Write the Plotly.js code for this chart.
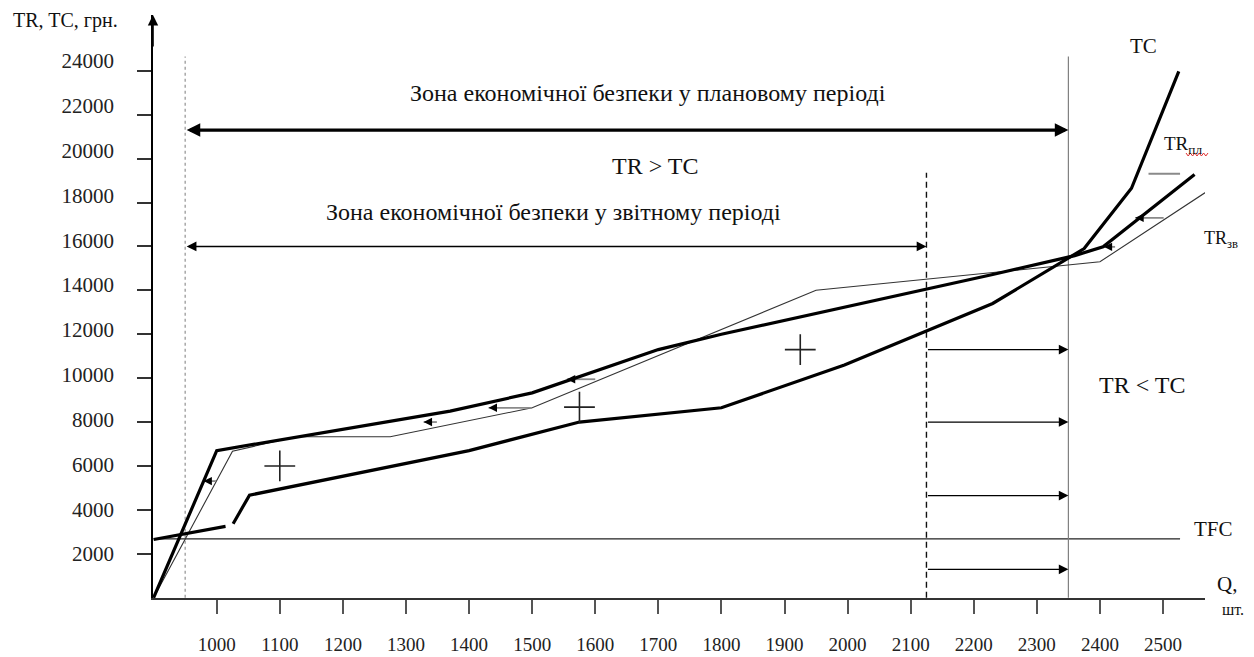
<!DOCTYPE html>
<html>
<head>
<meta charset="utf-8">
<script src="https://cdn.plot.ly/plotly-3.0.1.min.js"></script>
<style>html,body{margin:0;padding:0;background:#fff;}#chart{width:1254px;height:657px;}</style>
</head>
<body>
<div id="chart"></div>
<script>
// ---- data ----
const xTicks = [1000,1100,1200,1300,1400,1500,1600,1700,1800,1900,2000,2100,2200,2300,2400,2500];
const yTicks = [2000,4000,6000,8000,10000,12000,14000,16000,18000,20000,22000,24000];
const yTickText = ['2000','4000','6000','8000','10000','12000','14000','16000','18000','20000','22000','24000'];

const tcX = [900, 1014, null, 1026, 1052, 1400, 1575, 1800, 1995, 2230, 2375, 2450, 2525];
const tcY = [2650, 3250, null, 3370, 4670, 6700, 8000, 8650, 10600, 13400, 15900, 18650, 23970];

const trPlanX = [900, 1000, 1370, 1500, 1700, 1800, 2230, 2360, 2405, 2550];
const trPlanY = [0, 6700, 8500, 9330, 11300, 12000, 14720, 15580, 15980, 19270];

const trRepX = [900, 1025, 1125, 1275, 1500, 1950, 2400, 2578];
const trRepY = [0, 6670, 7330, 7330, 8650, 14000, 15300, 18660];

const tfcX = [900, 2527];
const tfcY = [2680, 2680];

const breakEvenRep = 950;      // dotted line
const breakEvenPlan = 2350;    // solid line
const reportLimit = 2125;      // dashed line
const vTop = 24650;
const dashTop = 19360;

const zonePlanY = 21300;
const zoneRepY = 16000;
const lossArrowsY = [11300, 8000, 4650, 1290];

const plusX = [1100, 1575, 1925];
const plusY = [6000, 8680, 11300];

// small arrows along TR plan line
const smallArrowY = [5310, 8000, 8650, 9950, 15980, 17300, 19310];
const smallArrowHeadX = [979, 1328, 1431, 1555, 2406, 2456, null];
const smallArrowTailX = [999, 1349, 1500, 1600, 2424, 2501, 2527];
const smallArrowTailStartX = [979, 1328, 1431, 1555, 2406, 2456, 2477];

// ---- layout geometry ----
const L = 153, R = 49, T = 15, B = 59, W = 1254 - L - R, H = 657 - T - B;
const xRange = [899, 899 + W / 0.63087];
const yRange = [-14, 26540];
const serif = '"Liberation Serif", "Times New Roman", serif';

function P(px, py) { return {x: (px - L) / W, y: (657 - B - py) / H, xref: 'paper', yref: 'paper'}; }

const traces = [];
traces.push({x: tfcX, y: tfcY, mode: 'lines', line: {color: '#222', width: 1.2}});
traces.push({x: [breakEvenRep, breakEvenRep], y: [0, vTop], mode: 'lines', line: {color: '#9a9a9a', width: 1.3, dash: 'dot'}});
traces.push({x: [breakEvenPlan, breakEvenPlan], y: [0, vTop], mode: 'lines', line: {color: '#808080', width: 1.2}});
traces.push({x: [reportLimit, reportLimit], y: [0, dashTop], mode: 'lines', line: {color: '#111', width: 1.4, dash: '6px,4px'}});
traces.push({x: trRepX, y: trRepY, mode: 'lines', line: {color: '#333', width: 1.1}});
// gray tails
const tailX = [], tailY = [];
smallArrowY.forEach((y, i) => { tailX.push(smallArrowTailStartX[i], smallArrowTailX[i], null); tailY.push(y, y, null); });
traces.push({x: tailX, y: tailY, mode: 'lines', line: {color: '#8a8a8a', width: 1.8}, connectgaps: false});
traces.push({x: tcX, y: tcY, mode: 'lines', line: {color: '#000', width: 3.2}, connectgaps: false});
traces.push({x: trPlanX, y: trPlanY, mode: 'lines', line: {color: '#000', width: 3.2}});
traces.push({x: plusX, y: plusY, mode: 'markers', marker: {symbol: 'cross-thin', size: 22, line: {color: '#222', width: 1.6}}});
traces.push({x: [null], y: [null], yaxis: 'y2', mode: 'lines', hoverinfo: 'skip'});

const ann = [];
function arrow(x0, y0, x1, y1, opts) {
  return Object.assign({x: x1, y: y1, ax: x0, ay: y0, xref: 'x', yref: 'y', axref: 'x', ayref: 'y',
    text: '', showarrow: true, arrowhead: 2, arrowcolor: '#000', standoff: 0, startstandoff: 0}, opts);
}
// y-axis arrow
ann.push(arrow(xRange[0], yRange[1] - 1500, xRange[0], yRange[1], {arrowwidth: 1.6, arrowsize: 1.3}));
// zones
ann.push(arrow(breakEvenRep, zonePlanY, breakEvenPlan, zonePlanY, {arrowwidth: 3.2, arrowsize: 0.85, arrowside: 'end+start'}));
ann.push(arrow(breakEvenRep, zoneRepY, reportLimit, zoneRepY, {arrowwidth: 1.5, arrowsize: 1.3, arrowside: 'end+start'}));
lossArrowsY.forEach(y => ann.push(arrow(reportLimit, y, breakEvenPlan, y, {arrowwidth: 1.2, arrowsize: 1.6})));
smallArrowY.forEach((y, i) => {
  if (smallArrowHeadX[i] !== null) ann.push(arrow(smallArrowHeadX[i] + 13, y, smallArrowHeadX[i], y, {arrowwidth: 1.6, arrowsize: 1.05}));
});

function label(text, px, py, size, extra) {
  return Object.assign(P(px, py), {text: text, showarrow: false, font: {family: serif, size: size, color: '#111'}, xanchor: 'center', yanchor: 'middle'}, extra || {});
}
ann.push(label('Зона економічної безпеки у плановому періоді', 648, 93, 24));
ann.push(label('TR &gt; TC', 655, 166, 24));
ann.push(label('Зона економічної безпеки у звітному періоді', 553, 212, 24));
ann.push(label('TR &lt; TC', 1142, 385, 24));
ann.push(label('TFC', 1213, 529, 21));
ann.push(label('TC', 1143, 46, 21));
ann.push(label('TR<sub>пл</sub>', 1183, 145, 19));
ann.push(label('TR<sub>зв</sub>', 1221, 240, 18));
ann.push(label('TR, TC, грн.', 65, 21, 20));
ann.push(label('Q,', 1227, 584, 21));
ann.push(label('шт.', 1233, 609, 16));

// red wavy spell-check underline under "пл"
let wave = '';
for (let i = 0; i <= 10; i++) {
  const p = P(1186 + i * 2.2, 154 + (i % 2 ? 2 : -1));
  wave += (i === 0 ? 'M' : 'L') + p.x + ',' + p.y;
}

const layout = {
  width: 1254, height: 657,
  margin: {l: L, r: R, t: T, b: B, pad: 0},
  paper_bgcolor: '#fff', plot_bgcolor: '#fff',
  showlegend: false, hovermode: false,
  xaxis: {range: xRange, showgrid: false, zeroline: false, showline: true, linecolor: '#333', linewidth: 2,
    ticks: 'outside', ticklen: 14, tickwidth: 2, tickcolor: '#555', tickmode: 'array', tickvals: xTicks,
    tickfont: {family: serif, size: 19, color: '#222'}, ticklabelstandoff: 14},
  yaxis: {range: yRange, showgrid: false, zeroline: false, showline: true, linecolor: '#000', linewidth: 2,
    ticks: 'outside', ticklen: 14, tickwidth: 2, tickcolor: '#333', tickmode: 'array', tickvals: yTicks,
    showticklabels: false},
  yaxis2: {overlaying: 'y', side: 'left', range: [36, 26052], showgrid: false, zeroline: false, showline: false,
    ticks: '', tickmode: 'array', tickvals: yTicks, ticktext: yTickText, tickfont: {family: serif, size: 21, color: '#222'},
    ticklabelstandoff: 38},
  shapes: [{type: 'path', xref: 'paper', yref: 'paper', path: wave, line: {color: '#e03030', width: 1}}],
  annotations: ann
};

Plotly.newPlot('chart', traces, layout, {staticPlot: true, displayModeBar: false});
</script>
</body>
</html>
